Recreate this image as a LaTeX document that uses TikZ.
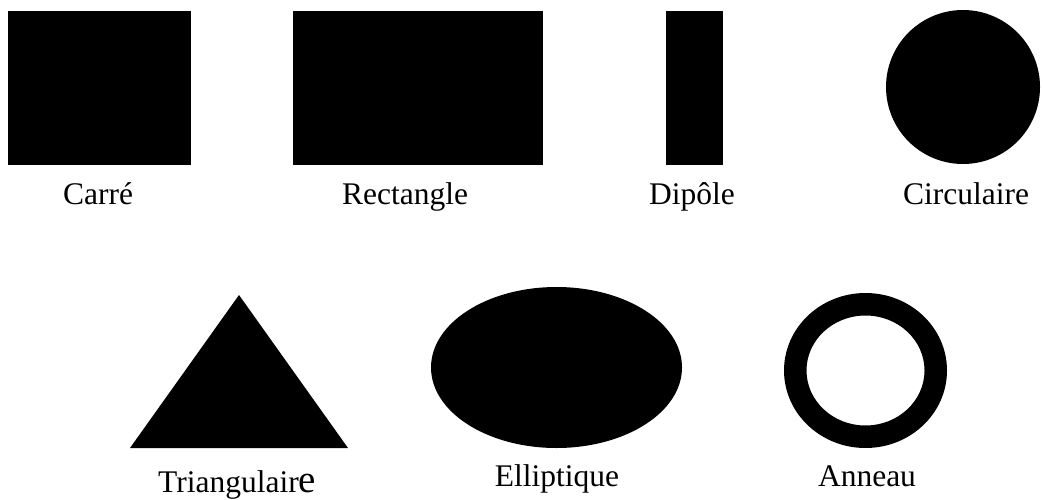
\documentclass[tikz,border=0pt]{standalone}
\usepackage{fontspec}
\setmainfont{Liberation Serif}
\usetikzlibrary{shapes.geometric}
\begin{document}
\begin{tikzpicture}[x=1pt,y=-1pt,
  shapebox/.style={fill=black,draw=none,inner sep=0pt,outer sep=0pt},
  lbl/.style={anchor=base,inner sep=0pt,font=\fontsize{31.5}{38}\selectfont}]
\useasboundingbox[fill=white] (0,0) rectangle (1043,500);
% top row
\node[shapebox,rectangle,minimum width=183pt,minimum height=154pt] (carre) at (99.5,88) {};
\node[shapebox,rectangle,minimum width=250pt,minimum height=154pt] (rect) at (418,88) {};
\node[shapebox,rectangle,minimum width=57pt,minimum height=154pt] (dipole) at (694.5,88) {};
\node[shapebox,circle,minimum size=154pt] (circ) at (963,87) {};
\node[lbl] (lcarre) at (98,204) {Carré};
\node[lbl] (lrect) at (405,204) {Rectangle};
\node[lbl] (ldipole) at (692,204) {Dipôle};
\node[lbl] (lcirc) at (966,204) {Circulaire};
% bottom row
\coordinate (tA) at (239,295);
\coordinate (tB) at (130,448);
\coordinate (tC) at (348,448);
\fill[black] (tA) -- (tB) -- (tC) -- cycle;
\node[shapebox,ellipse,minimum width=251pt,minimum height=161pt] (ell) at (556.5,367.5) {};
\coordinate (ring) at (865.5,370.5);
\fill[black,even odd rule] (ring) ellipse [x radius=81.5pt,y radius=77.5pt]
  (ring) ellipse [x radius=59pt,y radius=55pt];
\node[lbl,anchor=base west] (ltri) at (158,492) {Triangulair{\fontsize{39}{46}\selectfont e}};
\node[lbl] (lell) at (557,486) {Elliptique};
\node[lbl] (lring) at (867,486) {Anneau};
\end{tikzpicture}
\end{document}
